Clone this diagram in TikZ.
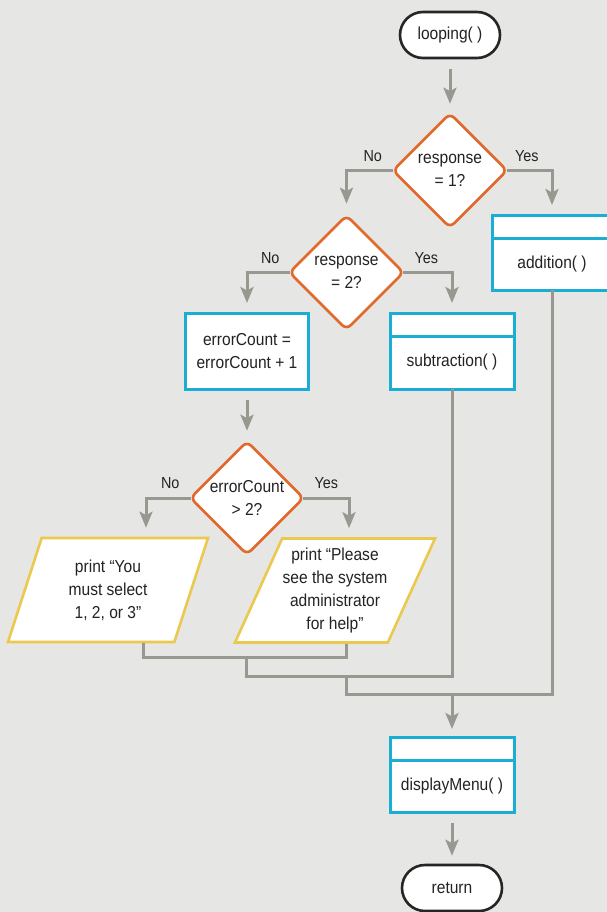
\documentclass[tikz,border=0pt]{standalone}
\usepackage{fontspec}
\setmainfont{Liberation Sans}[FakeStretch=0.9]
\usetikzlibrary{arrows.meta, calc, positioning, shapes.geometric}
\definecolor{bggray}{RGB}{230,230,228}
\definecolor{flowgray}{RGB}{152,152,145}
\definecolor{procblue}{RGB}{26,174,212}
\definecolor{decorange}{RGB}{224,105,43}
\definecolor{ioyellow}{RGB}{235,200,78}
\definecolor{inkgray}{RGB}{35,35,35}

\begin{document}
\begin{tikzpicture}[x=1pt, y=-1pt,
  font=\fontsize{17.3pt}{23pt}\selectfont, text=inkgray,
  every node/.style={align=center},
  term/.style={draw=black!85, line width=2.6pt, fill=white,
    rounded corners=23pt, minimum width=100pt, minimum height=46pt},
  decision/.style={diamond, draw=decorange, line width=2.6pt, fill=white,
    rounded corners=6pt, inner sep=0pt,
    minimum width=115pt, minimum height=115pt},
  procbox/.style={draw=procblue, line width=3pt, fill=white,
    outer sep=0pt, minimum width=124pt},
  headbox/.style={procbox, minimum height=23pt},
  iobox/.style={trapezium, trapezium left angle=61, trapezium right angle=119,
    trapezium stretches body, draw=ioyellow, line width=2.6pt, fill=white,
    minimum width=200pt, minimum height=104pt, inner sep=0pt},
  flow/.style={draw=flowgray, line width=3pt},
  arrow/.style={flow, -{Stealth[length=16pt, width=13pt, inset=3.5pt]}},
  lab/.style={font=\fontsize{16pt}{19pt}\selectfont, inner sep=1pt}
]
\fill[bggray] (0,0) rectangle (607,912);
\useasboundingbox (0,0) rectangle (607,912);

% TOP: start and first decision
\node[term] (loop) at (450,35) {looping( )};
\node[decision] (d1) at (450,170.5) {response\\= 1?};
\node[procbox, minimum width=120pt, minimum height=52pt] (add) at (552,264) {addition( )};
\node[headbox, minimum width=120pt, above=0pt of add] (addhead) {};
\node[lab, above left=8pt and 8pt of d1.west] (no1) {No};
\node[lab, above right=8pt and 5pt of d1.east] (yes1) {Yes};

% MIDDLE: second decision
\node[decision] (d2) at (346.5,272.5) {response\\= 2?};
\node[procbox, minimum width=123pt, minimum height=76pt] (err) at (247,351)
  {errorCount =\\errorCount + 1};
\node[procbox, minimum height=53pt] (sub) at (452,362.5) {subtraction( )};
\node[headbox, above=0pt of sub] (subhead) {};
\node[lab, above left=8pt and 7pt of d2.west] (no2) {No};
\node[lab, above right=8pt and 8pt of d2.east] (yes2) {Yes};

% LOWER: error count check
\node[decision, minimum width=114pt, minimum height=114pt] (d3) at (247,498)
  {errorCount\\> 2?};
\node[iobox] (pl) at (108,590) {print “You\\must select\\1, 2, or 3”};
\node[iobox] (pr) at (335,590.5)
  {print “Please\\see the system\\administrator\\for help”};
\node[lab, above left=8pt and 8pt of d3.west] (no3) {No};
\node[lab, above right=8pt and 8pt of d3.east] (yes3) {Yes};

% BOTTOM: menu and return
\node[procbox, minimum height=52pt] (disp) at (452,786) {displayMenu( )};
\node[headbox, above=0pt of disp] (disphead) {};
\node[term] (ret) at (452,888) {return};

% CONNECTORS
\draw[arrow, shorten <=10pt, shorten >=8pt] (loop.south) -- (d1.north);
\draw[arrow, shorten >=10pt] ([xshift=2pt]d1.west) -| (d2.north);
\draw[arrow, shorten >=10pt] ([xshift=-2pt]d1.east) -| (addhead.north);
\draw[arrow, shorten >=10pt] ([xshift=2pt]d2.west) -| (err.north);
\draw[arrow, shorten >=10pt] ([xshift=-2pt]d2.east) -| (subhead.north);
\draw[arrow, shorten <=11pt, shorten >=9pt] (err.south) -- (d3.north);
\draw[arrow, shorten >=9pt] ([xshift=2pt]d3.west) -| ([xshift=38pt]pl.north);
\draw[arrow, shorten >=9pt] ([xshift=-2pt]d3.east) -| ([xshift=14pt]pr.north);

% MERGE
\coordinate (j1) at (246,657);
\coordinate (j2) at (346,676);
\coordinate (j3) at (452,694);
\draw[flow] ([xshift=35pt]pl.south) |- (j1) -| ([xshift=11pt]pr.south);
\draw[flow] (j1) |- (j2) -| (sub.south);
\draw[flow] (j2) |- (j3) -| (add.south);
\draw[arrow, shorten >=8pt] (j3) -- (disphead.north);
\draw[arrow, shorten <=11pt, shorten >=8pt] (disp.south) -- (ret.north);
\end{tikzpicture}
\end{document}
